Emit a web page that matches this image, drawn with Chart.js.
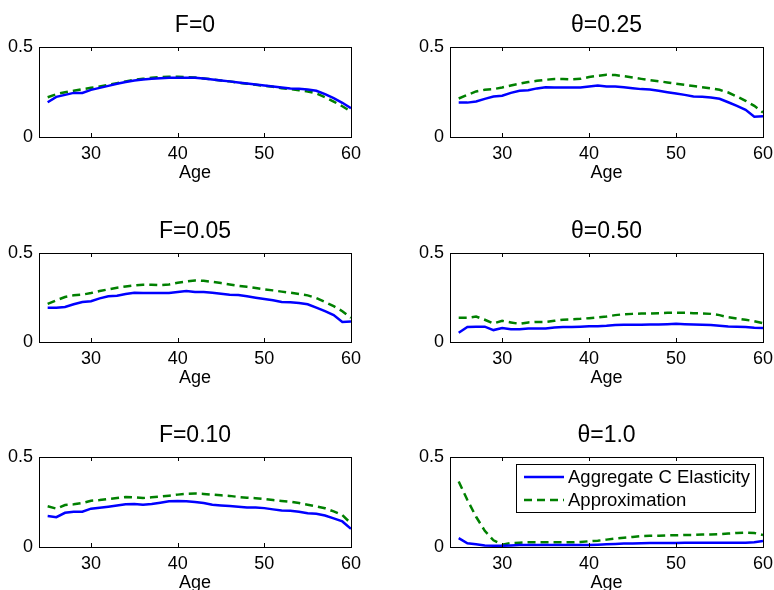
<!DOCTYPE html>
<html>
<head>
<meta charset="UTF-8">
<script src="https://cdn.jsdelivr.net/npm/chart.js"></script>
<style>
  html, body { margin: 0; padding: 0; background: #fff; overflow: hidden; }
  body { width: 774px; height: 590px; position: relative; }
  .panel { position: absolute; width: 387px; height: 200px; }
  canvas { display: block; }
</style>
</head>
<body>
<div class="panel" style="left:0;top:0"><canvas id="c0" width="387" height="200"></canvas></div>
<div class="panel" style="left:387px;top:0"><canvas id="c1" width="387" height="200"></canvas></div>
<div class="panel" style="left:0;top:200px"><canvas id="c2" width="387" height="200"></canvas></div>
<div class="panel" style="left:387px;top:200px"><canvas id="c3" width="387" height="200"></canvas></div>
<div class="panel" style="left:0;top:400px"><canvas id="c4" width="387" height="200"></canvas></div>
<div class="panel" style="left:387px;top:400px"><canvas id="c5" width="387" height="200"></canvas></div>
<script>
// data
const ages = [25, 26, 27, 28, 29, 30, 31, 32, 33, 34, 35, 36, 37, 38, 39, 40, 41, 42,
              43, 44, 45, 46, 47, 48, 49, 50, 51, 52, 53, 54, 55, 56, 57, 58, 59, 60];
const xTicks = [30, 40, 50, 60];
const yTicks = [0, 0.5];
const titles = ['F=0', 'θ=0.25', 'F=0.05', 'θ=0.50', 'F=0.10', 'θ=1.0'];
const seriesNames = ['Aggregate C Elasticity', 'Approximation'];

const elastF0 = [0.193, 0.223, 0.234, 0.245, 0.245, 0.262, 0.273, 0.284, 0.296, 0.305, 0.314, 0.320,
  0.323, 0.327, 0.329, 0.329, 0.329, 0.329, 0.325, 0.320, 0.314, 0.309, 0.303, 0.297,
  0.292, 0.286, 0.281, 0.275, 0.270, 0.268, 0.264, 0.257, 0.238, 0.216, 0.190, 0.160];
const approxF0 = [0.221, 0.238, 0.249, 0.257, 0.266, 0.273, 0.281, 0.290, 0.299, 0.309, 0.318, 0.323,
  0.329, 0.333, 0.335, 0.335, 0.333, 0.331, 0.325, 0.320, 0.314, 0.309, 0.301, 0.296,
  0.290, 0.284, 0.279, 0.271, 0.266, 0.260, 0.253, 0.242, 0.221, 0.197, 0.171, 0.141];

const elastT025 = [0.191, 0.191, 0.197, 0.212, 0.225, 0.229, 0.245, 0.257, 0.260, 0.270, 0.277, 0.275,
  0.275, 0.275, 0.275, 0.281, 0.286, 0.281, 0.281, 0.277, 0.271, 0.266, 0.264, 0.257,
  0.249, 0.242, 0.234, 0.225, 0.223, 0.219, 0.212, 0.193, 0.173, 0.151, 0.113, 0.115];
const approxT025 = [0.214, 0.234, 0.253, 0.262, 0.266, 0.275, 0.286, 0.296, 0.305, 0.312, 0.318, 0.322,
  0.322, 0.320, 0.323, 0.333, 0.340, 0.346, 0.344, 0.338, 0.331, 0.323, 0.316, 0.310,
  0.303, 0.296, 0.290, 0.283, 0.277, 0.270, 0.262, 0.247, 0.225, 0.201, 0.173, 0.136];

const elastF005 = [0.193, 0.193, 0.197, 0.212, 0.225, 0.229, 0.245, 0.257, 0.260, 0.270, 0.277, 0.275,
  0.275, 0.275, 0.275, 0.281, 0.286, 0.281, 0.281, 0.277, 0.271, 0.266, 0.264, 0.257,
  0.249, 0.242, 0.234, 0.225, 0.223, 0.219, 0.212, 0.193, 0.173, 0.151, 0.113, 0.115];
const approxF005 = [0.214, 0.234, 0.253, 0.262, 0.266, 0.275, 0.286, 0.296, 0.305, 0.312, 0.318, 0.322,
  0.322, 0.320, 0.323, 0.333, 0.340, 0.346, 0.344, 0.338, 0.331, 0.323, 0.316, 0.310,
  0.303, 0.296, 0.290, 0.283, 0.277, 0.270, 0.262, 0.247, 0.225, 0.201, 0.173, 0.136];

const elastT050 = [0.052, 0.084, 0.086, 0.086, 0.067, 0.078, 0.071, 0.071, 0.076, 0.076, 0.076, 0.082,
  0.084, 0.084, 0.086, 0.089, 0.089, 0.091, 0.095, 0.097, 0.097, 0.097, 0.099, 0.099,
  0.100, 0.102, 0.100, 0.099, 0.097, 0.095, 0.091, 0.087, 0.086, 0.084, 0.080, 0.078];
const approxT050 = [0.136, 0.136, 0.143, 0.125, 0.104, 0.119, 0.110, 0.102, 0.110, 0.113, 0.113, 0.119,
  0.125, 0.128, 0.130, 0.134, 0.138, 0.143, 0.151, 0.156, 0.158, 0.160, 0.160, 0.162,
  0.164, 0.164, 0.164, 0.162, 0.160, 0.158, 0.151, 0.139, 0.132, 0.125, 0.117, 0.106];

const elastF010 = [0.172, 0.166, 0.190, 0.196, 0.196, 0.213, 0.218, 0.224, 0.230, 0.237, 0.239, 0.235,
  0.239, 0.246, 0.254, 0.256, 0.254, 0.250, 0.244, 0.235, 0.231, 0.228, 0.224, 0.220,
  0.220, 0.216, 0.209, 0.203, 0.201, 0.196, 0.188, 0.185, 0.175, 0.159, 0.142, 0.101];
const approxF010 = [0.226, 0.213, 0.233, 0.237, 0.244, 0.257, 0.261, 0.267, 0.272, 0.278, 0.276, 0.272,
  0.276, 0.280, 0.285, 0.291, 0.295, 0.297, 0.295, 0.291, 0.287, 0.284, 0.278, 0.274,
  0.271, 0.267, 0.261, 0.256, 0.252, 0.244, 0.235, 0.226, 0.215, 0.198, 0.177, 0.131];

const elastT100 = [0.049, 0.021, 0.015, 0.009, 0.007, 0.007, 0.009, 0.011, 0.011, 0.011, 0.011, 0.011,
  0.011, 0.011, 0.011, 0.011, 0.013, 0.015, 0.017, 0.019, 0.019, 0.021, 0.022, 0.022,
  0.022, 0.022, 0.024, 0.024, 0.024, 0.024, 0.024, 0.024, 0.024, 0.024, 0.026, 0.034];
const approxT100 = [0.364, 0.261, 0.168, 0.090, 0.037, 0.013, 0.022, 0.024, 0.026, 0.026, 0.026, 0.026,
  0.026, 0.026, 0.028, 0.032, 0.035, 0.041, 0.047, 0.052, 0.056, 0.060, 0.062, 0.063,
  0.065, 0.065, 0.067, 0.067, 0.069, 0.069, 0.071, 0.075, 0.078, 0.080, 0.078, 0.067];

const elastSeries = [elastF0, elastT025, elastF005, elastT050, elastF010, elastT100];
const approxSeries = [approxF0, approxT025, approxF005, approxT050, approxF010, approxT100];

// layout of the 2x3 grid (plot-area top/bottom inside each 200px row)
const rowTop = [47, 53, 57];
const rowBottom = [137, 142, 147];
const FONT = 'Liberation Sans, Arial, Helvetica, sans-serif';
const BLUE = 'rgb(0,0,255)';
const GREEN = 'rgb(0,128,0)';

// box + inward ticks like matlab axes, titles, legend on last panel
const matlabAxes = {
  id: 'matlabAxes',
  afterDatasetsDraw(chart) {
    const { ctx, chartArea: a, scales } = chart;
    const opts = chart.options.plugins.matlabAxes;
    ctx.save();
    ctx.strokeStyle = '#000';
    ctx.lineWidth = 1;
    ctx.strokeRect(Math.round(a.left) + 0.5, Math.round(a.top) + 0.5,
      Math.round(a.right - a.left), Math.round(a.bottom - a.top));
    ctx.beginPath();
    xTicks.forEach(v => {
      const x = Math.round(scales.x.getPixelForValue(v)) + 0.5;
      ctx.moveTo(x, a.bottom); ctx.lineTo(x, a.bottom - 4);
      ctx.moveTo(x, a.top); ctx.lineTo(x, a.top + 4);
    });
    yTicks.forEach(v => {
      const y = Math.round(scales.y.getPixelForValue(v)) + 0.5;
      ctx.moveTo(a.left, y); ctx.lineTo(a.left + 4, y);
      ctx.moveTo(a.right, y); ctx.lineTo(a.right - 4, y);
    });
    ctx.stroke();

    // title centred over the plot box
    ctx.fillStyle = '#000';
    ctx.font = '23px ' + FONT;
    ctx.textAlign = 'center';
    ctx.textBaseline = 'middle';
    ctx.fillText(opts.title, (a.left + a.right) / 2, a.top - 21);

    if (opts.legend) {
      const lx = a.left + 66, ly = a.top + 7, lw = 239, lh = 48;
      ctx.fillStyle = '#fff';
      ctx.fillRect(lx, ly, lw, lh);
      ctx.strokeRect(Math.round(lx) + 0.5, Math.round(ly) + 0.5, lw, lh);
      ctx.font = '18.5px ' + FONT;
      ctx.textBaseline = 'middle';
      ctx.textAlign = 'left';
      chart.data.datasets.forEach((ds, i) => {
        const y = ly + 13 + i * 23;
        ctx.beginPath();
        ctx.strokeStyle = ds.borderColor;
        ctx.lineWidth = ds.borderWidth;
        ctx.setLineDash(ds.borderDash || []);
        ctx.moveTo(lx + 8, y); ctx.lineTo(lx + 48, y);
        ctx.stroke();
        ctx.setLineDash([]);
        ctx.fillStyle = '#000';
        ctx.fillText(ds.label, lx + 52, y + 1);
      });
    }
    ctx.restore();
  }
};

function makePanel(idx) {
  const row = Math.floor(idx / 2), col = idx % 2;
  const top = rowTop[row], bottom = rowBottom[row];
  const xAxisH = 200 - bottom;
  const ageBottomPad = xAxisH - 36 - 10.8;
  new Chart(document.getElementById('c' + idx), {
    type: 'line',
    data: {
      datasets: [
        {
          label: seriesNames[0],
          data: ages.map((a, i) => ({ x: a, y: elastSeries[idx][i] })),
          borderColor: BLUE, borderWidth: 2.5, pointRadius: 0, tension: 0
        },
        {
          label: seriesNames[1],
          data: ages.map((a, i) => ({ x: a, y: approxSeries[idx][i] })),
          borderColor: GREEN, borderWidth: 2.5, borderDash: [8, 5], pointRadius: 0, tension: 0
        }
      ]
    },
    options: {
      responsive: false,
      animation: false,
      layout: { padding: { left: col ? 24 : 0, right: col ? 11 : 36, top: top, bottom: 0 } },
      plugins: {
        legend: { display: false },
        tooltip: { enabled: false },
        title: { display: false },
        matlabAxes: { legend: idx === 5, title: titles[idx] }
      },
      scales: {
        x: {
          type: 'linear', min: 24, max: 60,
          afterBuildTicks: s => { s.ticks = xTicks.map(v => ({ value: v })); },
          afterFit: s => { s.height = xAxisH; s.paddingLeft = 0; s.paddingRight = 0; },
          grid: { display: false, drawTicks: false },
          border: { display: false },
          ticks: { color: '#000', padding: 6, maxRotation: 0, font: { family: FONT, size: 18 } },
          title: {
            display: true, text: 'Age', color: '#000',
            font: { family: FONT, size: 18 },
            padding: { top: 0, bottom: ageBottomPad }
          }
        },
        y: {
          min: 0, max: 0.5,
          afterBuildTicks: s => { s.ticks = yTicks.map(v => ({ value: v })); },
          afterFit: s => { s.width = 39; s.paddingTop = 0; s.paddingBottom = 0; },
          grid: { display: false, drawTicks: false },
          border: { display: false },
          ticks: { color: '#000', padding: 6, font: { family: FONT, size: 18 },
                   callback: v => String(v) }
        }
      }
    },
    plugins: [matlabAxes]
  });
}

for (let i = 0; i < 6; i++) makePanel(i);
</script>
</body>
</html>
